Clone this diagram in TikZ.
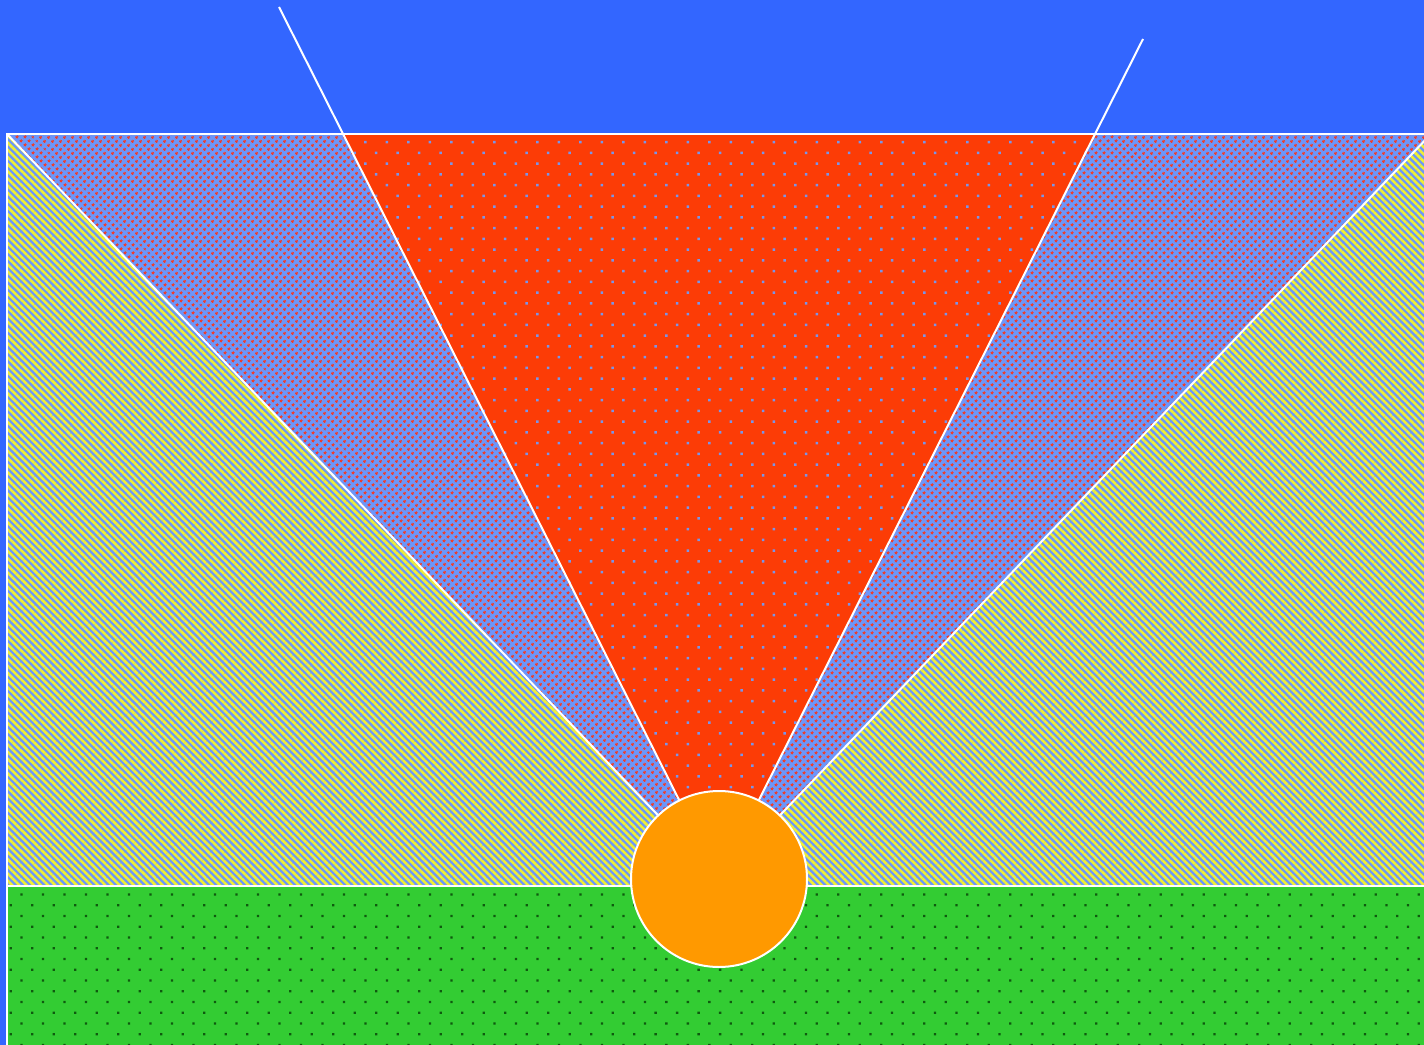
\documentclass[tikz,border=0pt]{standalone}
\usepackage{tikz}
\usetikzlibrary{patterns.meta}
\definecolor{skyblue}{RGB}{51,102,255}
\definecolor{paleblue}{RGB}{108,150,250}
\definecolor{flamered}{RGB}{252,60,6}
\definecolor{sunorange}{RGB}{255,153,0}
\definecolor{grassgreen}{RGB}{51,204,51}
\definecolor{darkgrass}{RGB}{15,90,15}
\definecolor{stripeyellow}{RGB}{240,240,50}
\definecolor{dotred}{RGB}{240,60,40}
\definecolor{dotblue}{RGB}{120,150,235}

\begin{document}
\begin{tikzpicture}[
    x=0.75pt, y=-0.75pt,
    stripes/.style={fill=paleblue, postaction={pattern={Lines[angle=-45, distance=3.8pt, line width=1.9pt]}, pattern color=stripeyellow}},
    wedge/.style={fill=paleblue, postaction={pattern={Dots[distance=4pt, radius=1.15pt, angle=45]}, pattern color=dotred}},
    beam/.style={fill=flamered, postaction={pattern={Dots[distance=11.4pt, radius=1.3pt, angle=45]}, pattern color=dotblue}},
    grass/.style={fill=grassgreen, postaction={pattern={Dots[distance=11.4pt, radius=1.2pt, angle=45]}, pattern color=darkgrass}},
    ray/.style={draw=white, line width=1.5pt},
    sun/.style={circle, draw=white, line width=1.5pt, fill=sunorange, minimum size=132pt, inner sep=0pt}
]

% Sky
\useasboundingbox (0,0) rectangle (1424,1045);
\clip (0,0) rectangle (1424,1045);
\fill[skyblue] (0,0) rectangle (1424,1045);

% Corners of the field
\coordinate (tl) at (7,134);
\coordinate (tr) at (1431,134);
\coordinate (ml) at (7,886);
\coordinate (mr) at (1424,886);
\coordinate (bl) at (7,1045);
\coordinate (br) at (1424,1045);
\coordinate (c)  at (719,879);

% Beam tops and ray ends
\coordinate (bt1) at (343,134);
\coordinate (bt2) at (1095,134);
\coordinate (r1)  at (279,7);
\coordinate (r2)  at (1143,39);

% Striped field
\path[stripes] (tl) rectangle (mr);

% Dotted wedge
\path[wedge] (tl) -- (tr) -- (c) -- cycle;

% Red beam
\path[beam] (bt1) -- (bt2) -- (c) -- cycle;

% Ground
\path[grass] (ml) rectangle (br);

% Outlines
\draw[ray] (tr) -- (tl) -- (bl);
\draw[ray] (ml) -- (mr);
\draw[ray] (tl) -- (c);
\draw[ray] (tr) -- (c);
\draw[ray] (r1) -- (c);
\draw[ray] (r2) -- (c);

% Sun
\node[sun] (sun) at (c) {};

\end{tikzpicture}
\end{document}
